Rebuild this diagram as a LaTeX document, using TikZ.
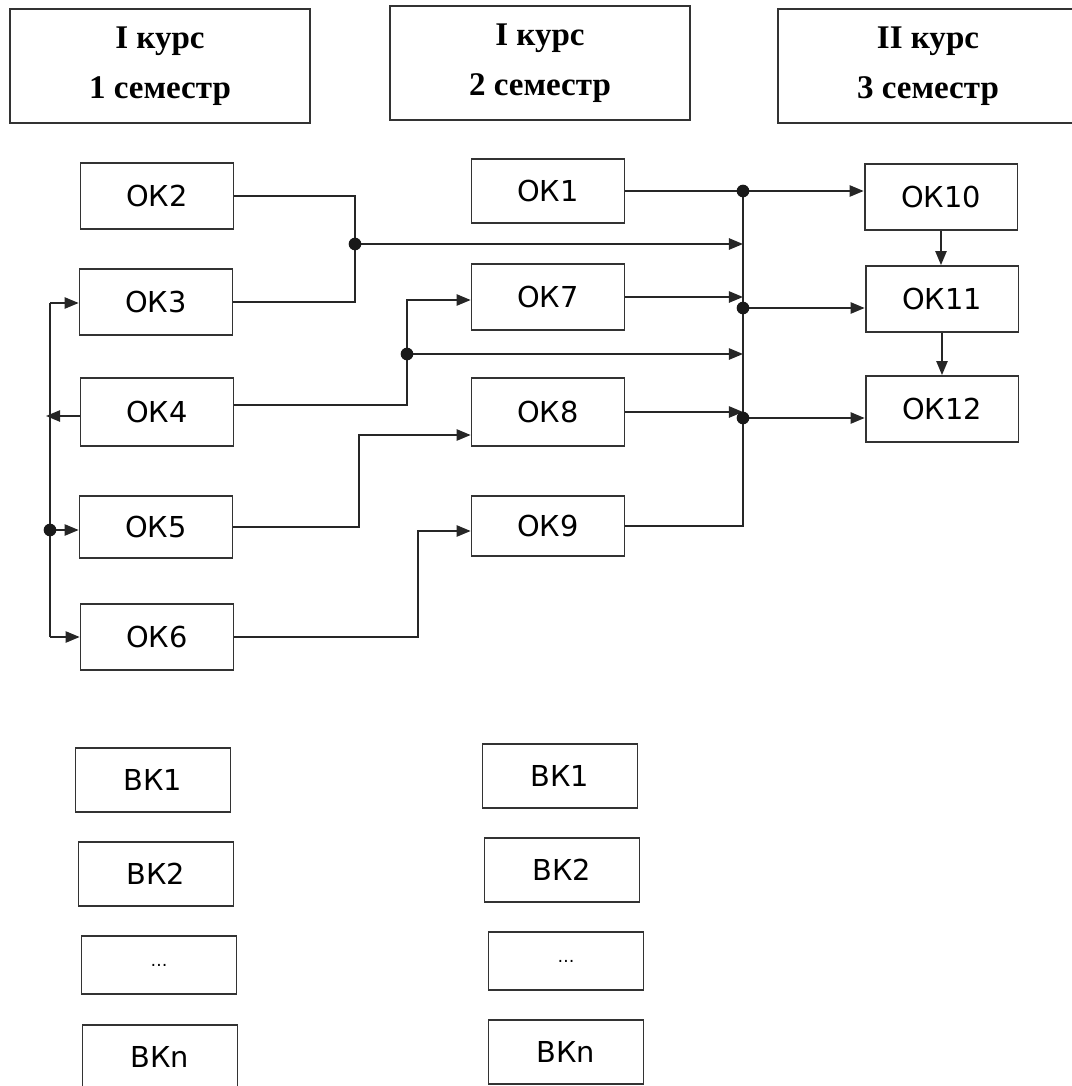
\documentclass[tikz,border=0pt]{standalone}
\usepackage{fontspec}
\setmainfont{Liberation Serif}
\newfontfamily\okfont{DejaVu Sans}
\usetikzlibrary{arrows.meta,calc}

\begin{document}
\begin{tikzpicture}[x=0.025cm, y=-0.025cm,
    >={Triangle[length=10pt,width=8pt]},
    kursbox/.style ={draw=black!80, line width=1.3pt, minimum width=7.5cm, minimum height=2.85cm,
        align=center, font=\fontsize{23.5}{35.6}\selectfont\bfseries},
    okbox/.style ={draw=black!80, line width=1.3pt, minimum width=3.82cm, minimum height=1.65cm,
        inner sep=0pt, font=\okfont\fontsize{20.5}{24}\selectfont},
    bkbox/.style ={okbox, minimum width=3.87cm, minimum height=1.6cm},
    wire/.style ={draw=black!85, line width=1.3pt},
    joint/.style ={fill=black!90}]
   \useasboundingbox (0,0) rectangle (1072,1086);
   \clip (0,0) rectangle (1072,1086);

   % semesters
   \node[kursbox] (h1) at (160,66) {I курс\\1 семестр};
   \node[kursbox] (h2) at (540,63) {I курс\\2 семестр};
   \node[kursbox] (h3) at (928,66) {II курс\\3 семестр};

   \node[okbox] (ok2) at (157,196) {ОК2};
   \node[okbox] (ok3) at (156,302) {ОК3};
   \node[okbox, minimum height=1.7cm] (ok4) at (157,412) {ОК4};
   \node[okbox, minimum height=1.55cm] (ok5) at (156,527) {ОК5};
   \node[okbox] (ok6) at (157,637) {ОК6};
   \node[okbox, minimum height=1.6cm] (ok1) at (548,191) {ОК1};
   \node[okbox] (ok7) at (548,297) {ОК7};
   \node[okbox, minimum height=1.7cm] (ok8) at (548,412) {ОК8};
   \node[okbox, minimum height=1.5cm] (ok9) at (548,526) {ОК9};
   \node[okbox] (ok10) at (941,197) {ОК10};
   \node[okbox] (ok11) at (942,299) {ОК11};
   \node[okbox] (ok12) at (942,409) {ОК12};

   % elective
   \node[bkbox] (vl1) at (153,780) {ВК1};
   \node[bkbox] (vl2) at (156,874) {ВК2};
   \node[bkbox, minimum height=1.45cm] (vl3) at (159,965) {\fontsize{12}{13}\selectfont …};
   \node[bkbox] (vl4) at (160,1057) {ВКn};
   \node[bkbox] (vr1) at (560,776) {ВК1};
   \node[bkbox] (vr2) at (562,870) {ВК2};
   \node[bkbox, minimum height=1.45cm] (vr3) at (566,961) {\fontsize{12}{13}\selectfont …};
   \node[bkbox] (vr4) at (566,1052) {ВКn};

   \coordinate (j1) at (355,244);
   \coordinate (j2) at (407,354);
   \coordinate (b1) at (743,191);
   \coordinate (b2) at (743,308);
   \coordinate (b3) at (743,418);
   \coordinate (k5) at (359,435);
   \coordinate (k6) at (418,531);
   \coordinate (l3) at (50,303);
   \coordinate (l4) at (46,416);
   \coordinate (l5) at (50,530);
   \coordinate (l6) at (50,637);

   \draw[wire] (ok2.east) -| (j1) |- (ok3.east);
   \draw[wire,->] (j1) -- (j1 -| b1);
   \draw[wire] (ok1.east) -- (b1) -- (b1 |- ok9.east) -- (ok9.east);
   \draw[wire,->] (ok7.east) -- (ok7.east -| b1);
   \draw[wire,->] (ok8.east) -- (ok8.east -| b1);
   \draw[wire,->] (j2) -- (j2 -| b1);
   \draw[wire,->] ($(ok4.east)+(0,-7)$) -| (j2) |- ($(ok7.west)+(0,3)$);
   \draw[wire,->] (ok5.east) -| (k5) -- (k5 -| ok8.west);
   \draw[wire,->] (ok6.east) -| (k6) -- (k6 -| ok9.west);
   \draw[wire,->] (b1) -- (b1 -| ok10.west);
   \draw[wire,->] (b2) -- (b2 -| ok11.west);
   \draw[wire,->] (b3) -- (b3 -| ok12.west);
   \draw[wire,->] (ok10.south) -- (ok10.south |- ok11.north);
   \draw[wire,->] (ok11.south) -- (ok11.south |- ok12.north);

   \draw[wire] (l3) -- (l6);
   \draw[wire,->] (l3) -- (l3 -| ok3.west);
   \draw[wire,->] (ok4.west |- l4) -- (l4);
   \draw[wire,->] (l5) -- (l5 -| ok5.west);
   \draw[wire,->] (l6) -- (l6 -| ok6.west);

   \foreach \j in {j1,j2,b1,b2,b3,l5}
      \fill[joint] (\j) circle[radius=4.5pt];
\end{tikzpicture}
\end{document}
